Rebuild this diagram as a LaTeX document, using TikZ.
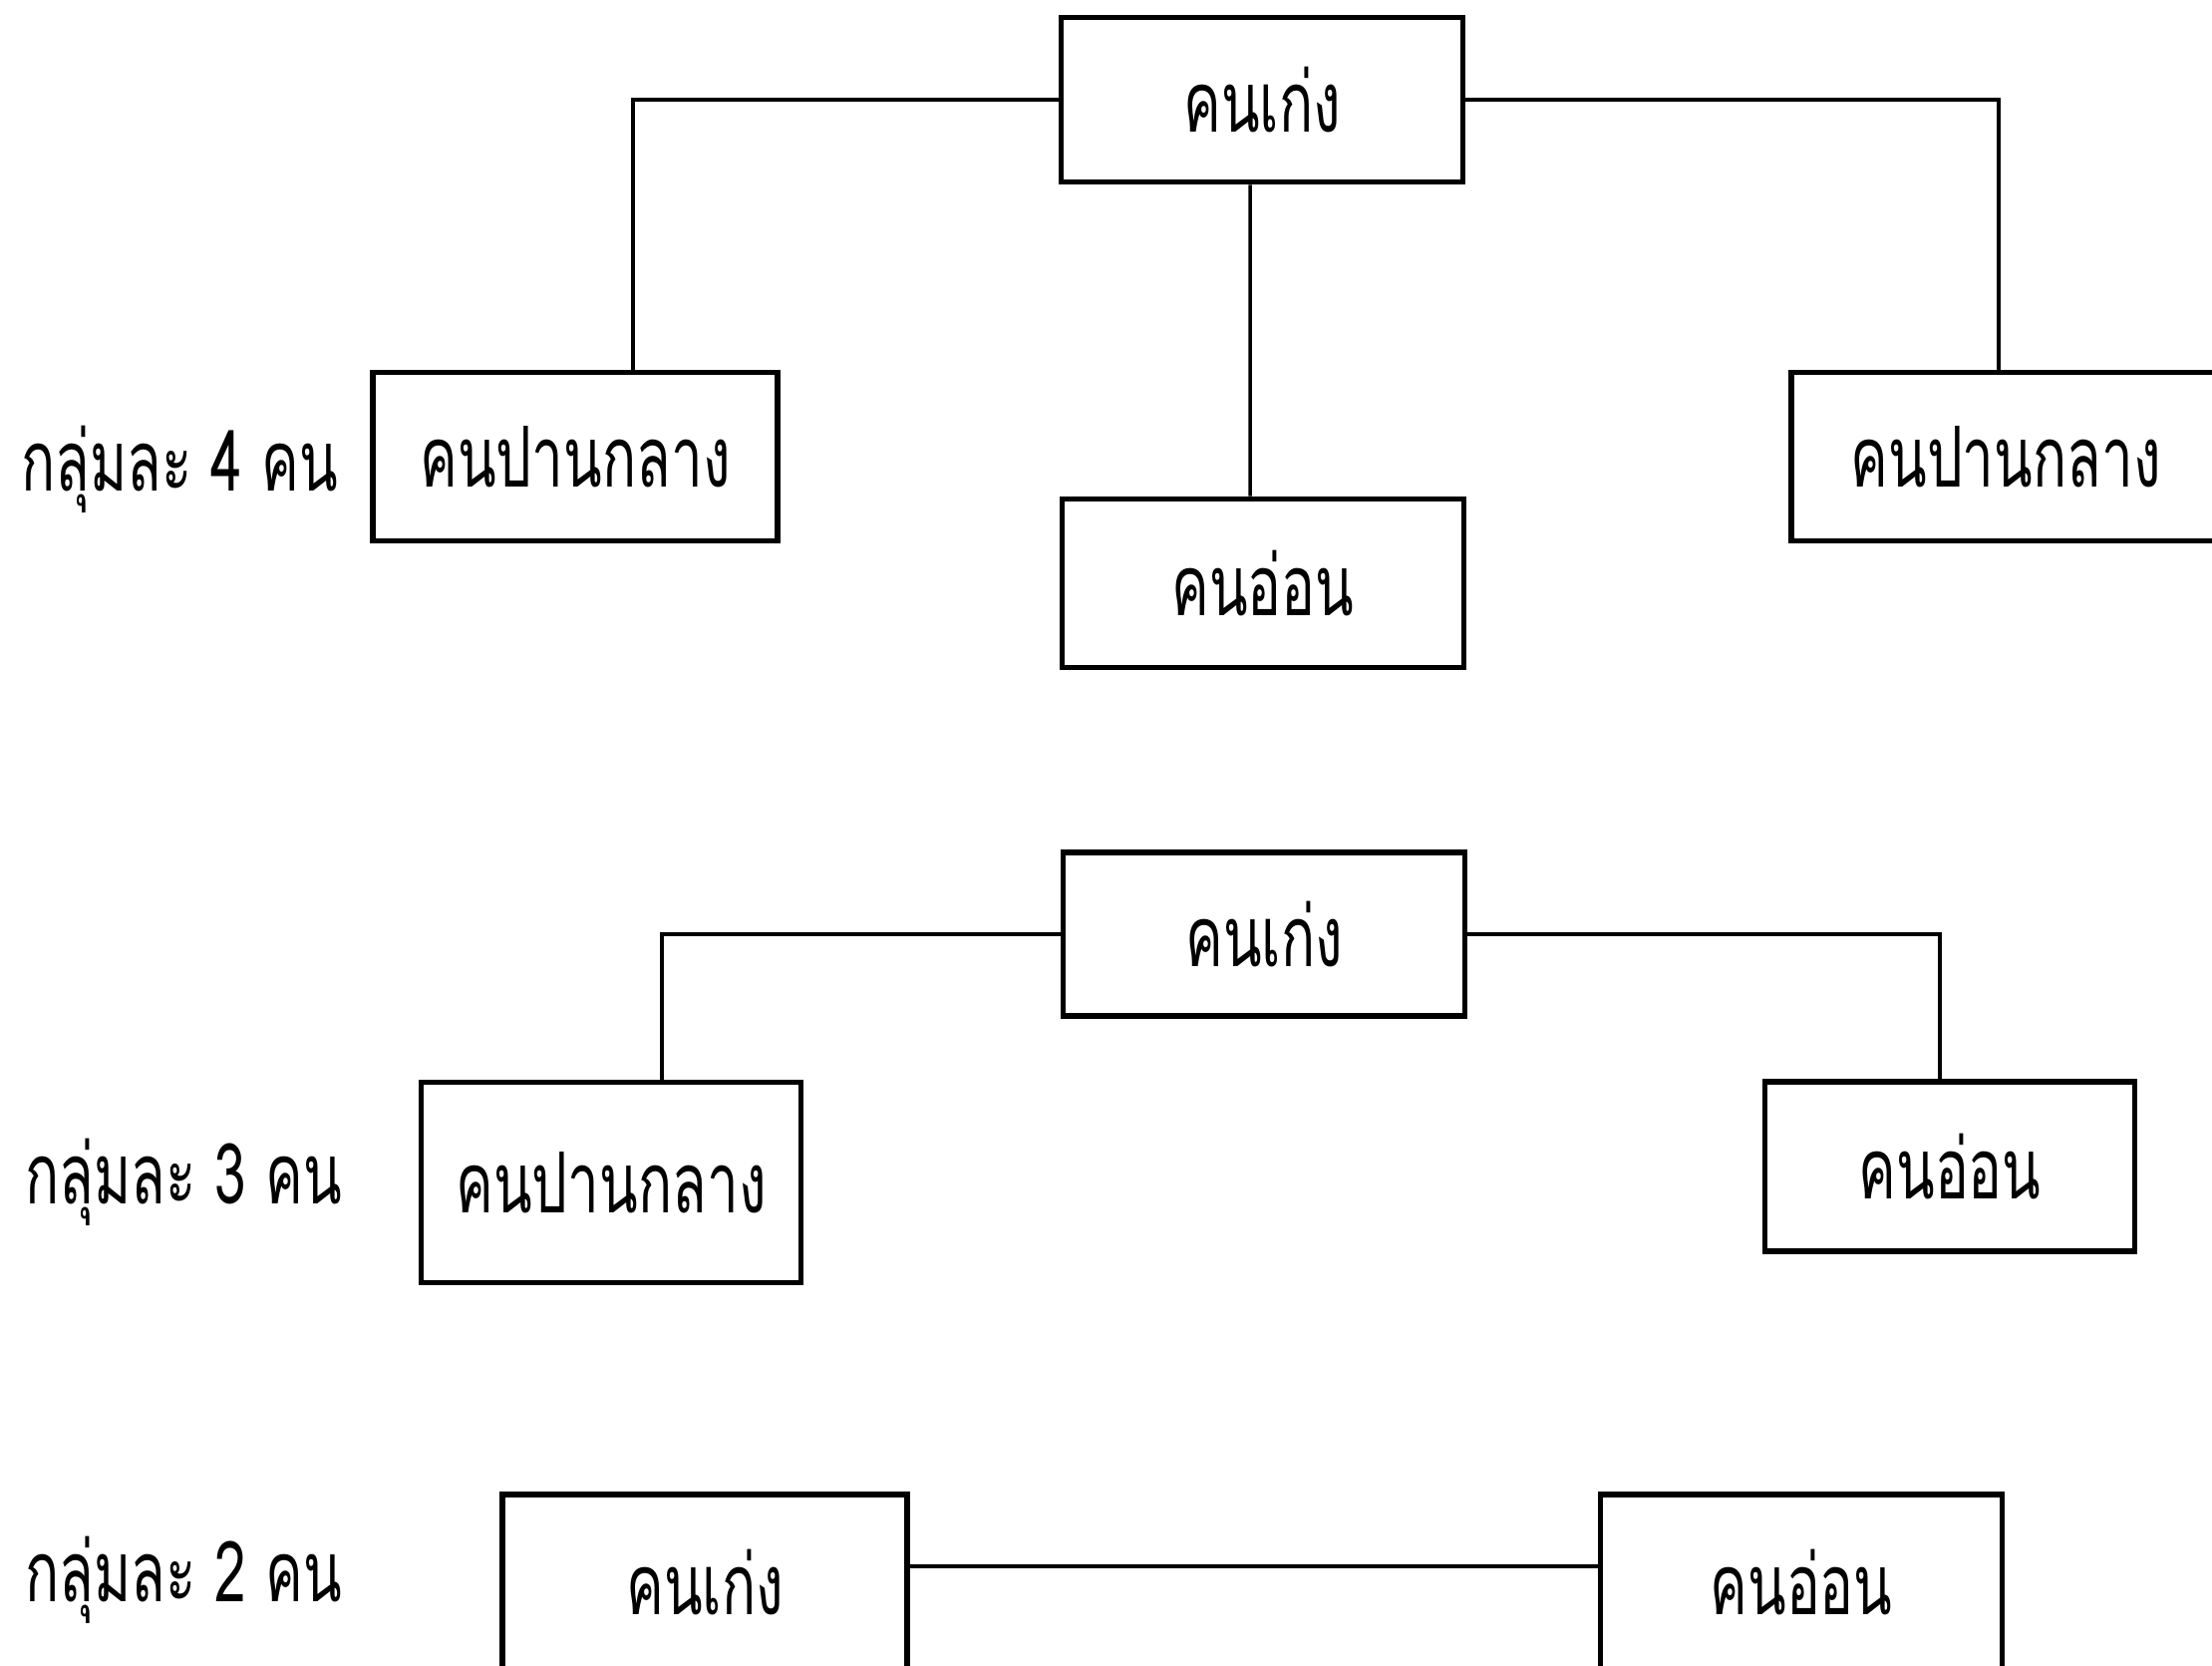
\documentclass[tikz,border=0pt]{standalone}
\usepackage{fontspec}
\newfontfamily\thaifont[Script=Thai,FakeStretch=0.67]{Loma}
\usetikzlibrary{positioning}
\tikzset{%
	boxnode/.style={rectangle, draw=black, line width=1.6pt, minimum width=4.03cm, minimum height=1.65cm, inner sep=0pt, font=\thaifont\fontsize{24}{28}\selectfont},
	grplabel/.style={anchor=west, inner sep=0pt, font=\thaifont\fontsize{24}{28}\selectfont},
	ln/.style={draw=black, line width=1pt}
}

\begin{document}
\begin{tikzpicture}[x=0.01cm, y=-0.01cm]
		\useasboundingbox (0,0) rectangle (2219,1670);
		\clip (0,0) rectangle (2219,1670);
		\fill[white] (0,0) rectangle (2219,1670);

		% groups of four
		\node[boxnode] (g4top) at (1266,100) {คนเก่ง};
		\node[boxnode, minimum width=4.06cm, minimum height=1.69cm] (g4left) at (577,458) {คนปานกลาง};
		\node[boxnode, minimum height=1.69cm] (g4mid) at (1267,585) {คนอ่อน};
		\node[boxnode, minimum width=4.3cm, minimum height=1.69cm] (g4right) at (2012,458) {คนปานกลาง};
		\node[grplabel] (lbl4) at (21,471) {กลุ่มละ 4 คน};

		\path[ln] (g4top.west) -| ([xshift=0.58cm]g4left.north);
		\path[ln, line width=1.4pt] (g4top.east) -| ([xshift=-0.07cm]g4right.north);
		\path[ln] ([xshift=-0.12cm]g4top.south) -- ([xshift=-0.13cm]g4mid.north);

		% groups of three
		\node[boxnode, minimum height=1.64cm] (g3top) at (1268,937) {คนเก่ง};
		\node[boxnode, minimum width=3.81cm, minimum height=2.01cm] (g3left) at (613,1186) {คนปานกลาง};
		\node[boxnode, minimum width=3.71cm, minimum height=1.7cm] (g3right) at (1956,1170) {คนอ่อน};
		\node[grplabel] (lbl3) at (25,1186) {กลุ่มละ 3 คน};

		\path[ln] (g3top.west) -| ([xshift=0.51cm]g3left.north);
		\path[ln] (g3top.east) -| ([xshift=-0.1cm]g3right.north);

		% groups of two
		\node[boxnode, minimum width=4.06cm, minimum height=1.76cm] (g2left) at (707,1587) {คนเก่ง};
		\node[boxnode, minimum width=4.03cm, minimum height=1.76cm] (g2right) at (1807,1587) {คนอ่อน};
		\node[grplabel] (lbl2) at (25,1585) {กลุ่มละ 2 คน};

		\path[ln, line width=1.4pt] ([yshift=0.16cm]g2left.east) -- ([yshift=0.16cm]g2right.west);
\end{tikzpicture}
\end{document}
